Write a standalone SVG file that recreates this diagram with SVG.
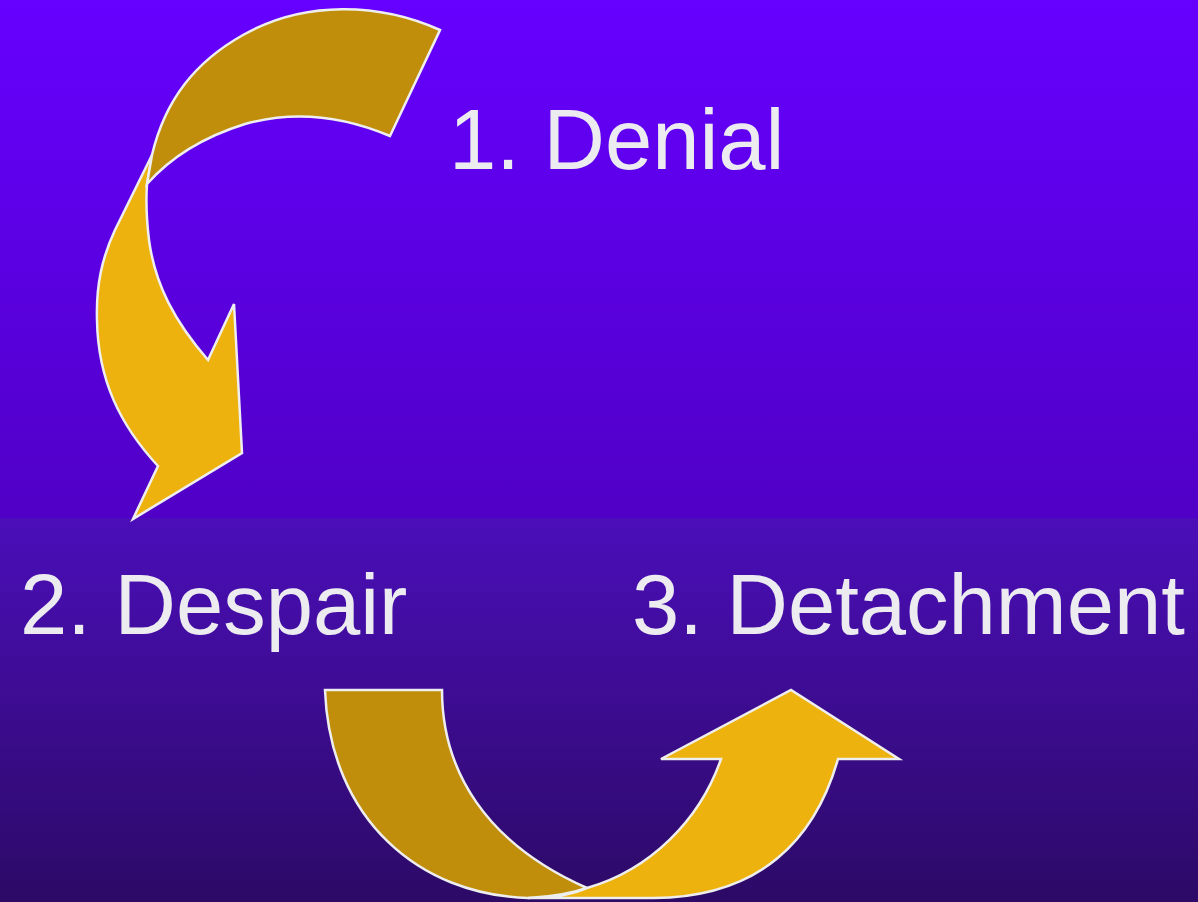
<svg xmlns="http://www.w3.org/2000/svg" width="1198" height="902" viewBox="0 0 1198 902">
<defs>
<linearGradient id="bgTop" x1="0" y1="0" x2="0" y2="1">
<stop offset="0" stop-color="#6600FF"/>
<stop offset="1" stop-color="#5000C6"/>
</linearGradient>
<linearGradient id="bgBot" x1="0" y1="0" x2="0" y2="1">
<stop offset="0" stop-color="#4B0EB9"/>
<stop offset="1" stop-color="#2C0A66"/>
</linearGradient>
<style>
.dark{fill:#C08E0A;stroke:#EEEEEE;stroke-width:2.5;stroke-linejoin:miter}
.gold{fill:#EEB20E;stroke:#EEEEEE;stroke-width:2.5;stroke-linejoin:miter}
.lbl{font-family:"Liberation Sans",Arial,sans-serif;font-size:85px;fill:#EBEBF0}
</style>
</defs>
<rect x="0" y="0" width="1198" height="518" fill="url(#bgTop)"/>
<rect x="0" y="518" width="1198" height="384" fill="url(#bgBot)"/>
<g id="connectors">
<g id="arrow-1-2">
<path class="gold" d="M152,155 L115,230 C102,258 96,285 97,320 C98,380 120,425 158,466 L133,519 L242,453 L234,304 L208,360 C175,322 155,285 149,240 C146,215 146,198 147,184 Z"/>
<path class="dark" d="M440,30 C380,3 305,0 243,35 C195,62 165,100 152,155 L147,184 C170,158 200,138 245,124 C295,110 345,117 390,136 Z"/>
</g>
<g id="arrow-2-3">
<path class="dark" d="M325,690 L442,690 C442,770 485,843 587,888 C570,894 550,897 528,898 C420,895 330,820 325,690 Z"/>
<path class="gold" d="M528,898 C560,898 575,893 587,888 C650,870 700,820 721,759 L661,759 L791,690 L899,759 L838,759 C815,840 760,897 654,898 Z"/>
</g>
</g>
<g id="node-denial"><text class="lbl" x="449" y="169">1. Denial</text></g>
<g id="node-despair"><text class="lbl" x="20" y="634">2. Despair</text></g>
<g id="node-detachment"><text class="lbl" x="632" y="634">3. Detachment</text></g>
</svg>
